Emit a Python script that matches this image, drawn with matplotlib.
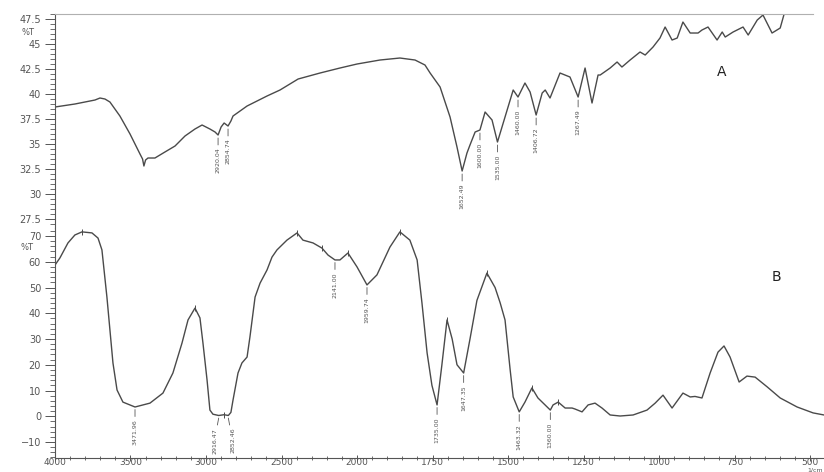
import numpy as np
import matplotlib
matplotlib.use("Agg")
import matplotlib.pyplot as plt
from matplotlib.ticker import FixedLocator, MultipleLocator

# spettro A (sopra), %T
wn_a = [4000, 3868, 3735, 3702, 3669, 3636, 3570, 3503, 3437, 3420, 3411, 3400, 3384,
        3338, 3272, 3205, 3139, 3073, 3026, 2974, 2940, 2920, 2900, 2880, 2854, 2835,
        2821, 2728, 2596, 2510, 2390, 2245, 2113, 2000, 1924, 1858, 1808, 1775, 1758,
        1725, 1692, 1669, 1652, 1636, 1626, 1609, 1593, 1576, 1553, 1535, 1503, 1483,
        1467, 1444, 1427, 1407, 1387, 1377, 1361, 1328, 1295, 1268, 1245, 1222, 1202,
        1195, 1162, 1139, 1123, 1096, 1063, 1046, 1020, 997, 980, 957, 940, 921, 897,
        871, 858, 838, 808, 791, 781, 755, 722, 705, 675, 656, 626, 599, 586, 570]
t_a = [38.7, 39.0, 39.4, 39.6, 39.5, 39.2, 37.8, 36.0, 34.0, 33.5, 32.8, 33.4, 33.6,
       33.6, 34.2, 34.8, 35.8, 36.5, 36.9, 36.5, 36.2, 35.9, 36.7, 37.1, 36.8, 37.3,
       37.8, 38.8, 39.8, 40.4, 41.5, 42.1, 42.6, 43.0, 43.4, 43.6, 43.4, 42.9, 42.1,
       40.7, 37.7, 34.7, 32.3, 34.1, 34.9, 36.2, 36.4, 38.2, 37.4, 35.2, 38.4, 40.4,
       39.7, 41.1, 40.2, 37.9, 40.1, 40.4, 39.6, 42.1, 41.7, 39.7, 42.6, 39.1, 41.9,
       41.9, 42.6, 43.2, 42.7, 43.4, 44.2, 43.9, 44.7, 45.6, 46.7, 45.4, 45.6, 47.2,
       46.1, 46.1, 46.4, 46.7, 45.4, 46.2, 45.7, 46.2, 46.7, 45.9, 47.4, 47.9, 46.1,
       46.6, 48.0, 49.0]

# spettro B (sotto), %T
wn_b = [4000, 3967, 3914, 3868, 3821, 3755, 3715, 3689, 3656, 3636, 3616, 3589, 3550,
        3470, 3371, 3285, 3219, 3159, 3119, 3073, 3040, 3020, 2993, 2974, 2954, 2916,
        2880, 2852, 2835, 2821, 2788, 2762, 2728, 2709, 2675, 2642, 2596, 2563, 2530,
        2464, 2397, 2358, 2291, 2232, 2192, 2146, 2113, 2060, 2000, 1967, 1934, 1891,
        1858, 1825, 1801, 1785, 1768, 1752, 1735, 1719, 1702, 1685, 1669, 1647, 1626,
        1603, 1570, 1543, 1526, 1510, 1493, 1483, 1463, 1444, 1421, 1401, 1360, 1351,
        1334, 1311, 1288, 1278, 1255, 1235, 1212, 1189, 1162, 1129, 1086, 1040, 1013,
        987, 957, 921, 897, 881, 858, 831, 805, 785, 765, 735, 709, 682, 642, 599, 543,
        490, 454]
t_b = [58.7, 61.5, 67.3, 70.4, 71.6, 71.2, 69.2, 64.6, 46.3, 33.5, 20.7, 10.2, 5.5,
       3.6, 5.1, 9.0, 16.8, 28.4, 37.4, 42.0, 38.2, 28.4, 14.1, 2.4, 0.8, 0.3, 0.6, 0.3,
       1.5, 6.3, 16.8, 20.7, 23.0, 30.8, 46.3, 51.7, 56.8, 61.8, 64.6, 68.4, 71.2, 68.4,
       67.3, 65.3, 62.6, 60.7, 60.7, 63.4, 58.0, 51.0, 54.9, 65.7, 71.6, 68.4, 60.7,
       44.0, 24.6, 12.0, 4.4, 20.0, 37.4, 30.0, 20.0, 16.8, 30.0, 45.0, 55.6, 50.0,
       44.0, 37.4, 18.0, 7.5, 1.7, 5.5, 11.0, 7.1, 2.4, 4.4, 5.5, 3.2, 3.2, 2.8, 1.7,
       4.4, 5.1, 3.2, 0.5, 0.1, 0.5, 2.4, 5.1, 8.2, 3.2, 9.0, 7.5, 7.7, 7.1, 16.8, 24.9,
       27.3, 23.0, 13.3, 15.6, 15.2, 11.4, 7.1, 3.6, 1.3, 0.5]

# etichette dei picchi
picchi_a = ["2920.04", "2854.74", "1652.49", "1600.00", "1535.00", "1460.00",
            "1406.72", "1267.49"]
picchi_a_wn = [2920, 2854, 1652, 1593, 1535, 1467, 1407, 1268]
picchi_b = ["3471.96", "2916.47", "2852.46", "2141.00", "1959.74", "1735.00",
            "1647.35", "1463.32", "1360.00"]
picchi_b_wn = [3470, 2916, 2852, 2146, 1967, 1735, 1647, 1463, 1360]
segni_b_wn = [3821, 3073, 2880, 2397, 2232, 2060, 1858, 1702, 1570, 1421, 1334]

x_major = [4000, 3500, 3000, 2500, 2000, 1750, 1500, 1250, 1000, 750, 500]

GRIGIO = "#4a4a4a"


def fwd(w):
    w = np.asarray(w, dtype=float)
    return np.where(w > 2000, 2000 + (w - 2000) / 2, w)


def inv(u):
    u = np.asarray(u, dtype=float)
    return np.where(u > 2000, 2000 + 2 * (u - 2000), u)


fig = plt.figure(figsize=(8.24, 4.72), dpi=100)
ax_a = fig.add_axes([0.0667, 0.518, 0.9333, 0.4523])
ax_b = fig.add_axes([0.0667, 0.0297, 0.9333, 0.4883], sharex=ax_a)

for ax in (ax_a, ax_b):
    ax.set_xscale("function", functions=(fwd, inv))
ax_a.set_xlim(4000, 454)

ax_a.plot(wn_a, t_a, color=GRIGIO, lw=1.0)
ax_b.plot(wn_b, t_b, color=GRIGIO, lw=1.0)

ax_a.set_ylim(26.65, 48.0)
ax_b.set_ylim(-16.2, 73.3)

# etichette verticali sotto i minimi
for lbl, w in zip(picchi_a, picchi_a_wn):
    v = t_a[wn_a.index(w)]
    ax_a.annotate(lbl, xy=(w, v - 0.3), xytext=(0, -7), textcoords="offset points",
                  rotation=90, ha="center", va="top", fontsize=4.5, color="#555555",
                  arrowprops=dict(arrowstyle="-", lw=0.6, color="#555555",
                                  shrinkA=0, shrinkB=0))
for lbl, w in zip(picchi_b, picchi_b_wn):
    v = t_b[wn_b.index(w)]
    dx = {2916: -3, 2852: 3}.get(w, 0)
    ax_b.annotate(lbl, xy=(w, v - 1.0), xytext=(dx, -7), textcoords="offset points",
                  rotation=90, ha="center", va="top", fontsize=4.5, color="#555555",
                  arrowprops=dict(arrowstyle="-", lw=0.6, color="#555555",
                                  shrinkA=0, shrinkB=0))
segni_v = [t_b[wn_b.index(w)] for w in segni_b_wn]
ax_b.plot(segni_b_wn, segni_v, ls="none", marker="|", ms=4, mew=0.7, color=GRIGIO)

# assi
for ax in (ax_a, ax_b):
    ax.spines["right"].set_visible(False)
    ax.spines["left"].set_color("#555555")
    ax.tick_params(axis="y", which="major", direction="out", length=7, width=0.7,
                   colors="#555555", labelsize=7, pad=3)
    ax.tick_params(axis="y", which="minor", direction="out", length=3.5, width=0.6,
                   colors="#555555")
ax_a.spines["bottom"].set_visible(False)
ax_a.spines["top"].set_color("#b0b0b0")
ax_a.spines["top"].set_bounds(4000, 490)
ax_b.spines["top"].set_visible(False)
ax_b.spines["bottom"].set_color("#555555")

ax_a.yaxis.set_major_locator(MultipleLocator(2.5))
ax_a.yaxis.set_minor_locator(MultipleLocator(0.5))
ax_a.yaxis.set_major_formatter(plt.FuncFormatter(lambda v, p: f"{v:g}"))
ax_b.yaxis.set_major_locator(MultipleLocator(10))
ax_b.yaxis.set_minor_locator(MultipleLocator(2))

ax_b.xaxis.set_major_locator(FixedLocator(x_major))
ax_b.xaxis.set_minor_locator(FixedLocator(list(range(3900, 2000, -100)) + list(range(1950, 450, -50))))
ax_b.xaxis.set_major_formatter(plt.FuncFormatter(lambda v, p: f"{v:g}"))
ax_a.tick_params(axis="x", which="both", bottom=False, labelbottom=False)
ax_b.tick_params(axis="x", which="major", direction="inout", length=5, width=0.7,
                 colors="#555555", labelsize=6.5, pad=-2.5)
ax_b.tick_params(axis="x", which="minor", direction="inout", length=3, width=0.6,
                 colors="#555555")

fig.text(0.034, 0.932, "%T", fontsize=6, color="#555555", ha="center", va="center")
fig.text(0.033, 0.475, "%T", fontsize=6, color="#555555", ha="center", va="center")
fig.text(0.876, 0.847, "A", fontsize=10, color="#222222", ha="center", va="center")
fig.text(0.942, 0.413, "B", fontsize=10, color="#222222", ha="center", va="center")
fig.text(0.999, 0.0, "1/cm", fontsize=4.5, color="#555555", ha="right", va="bottom")

fig.savefig("out.png", dpi=100)
